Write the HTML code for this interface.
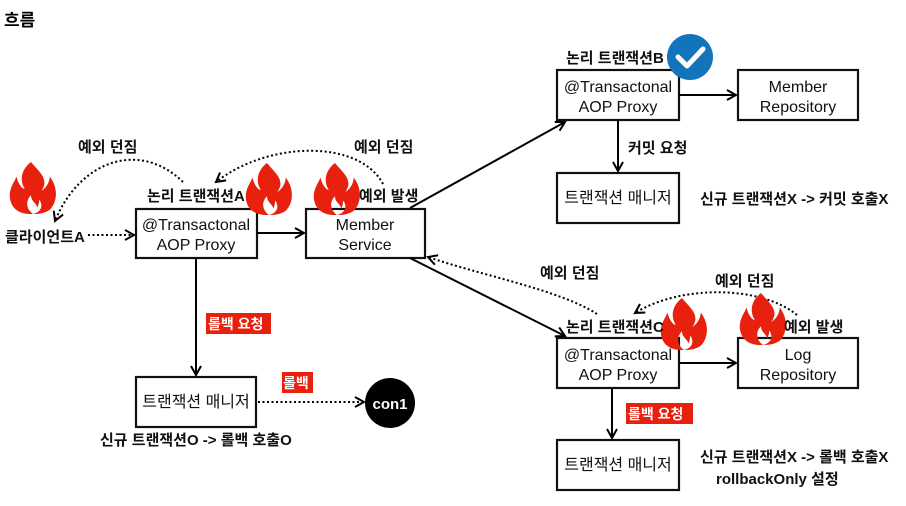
<!DOCTYPE html>
<html><head><meta charset="utf-8"><style>
body{margin:0;background:#fff;}
svg text{font-family:"Liberation Sans","Noto Sans CJK KR",sans-serif;}
</style></head><body>
<svg width="906" height="501" viewBox="0 0 906 501" xmlns="http://www.w3.org/2000/svg">
<defs>
<marker id="ar" markerWidth="12" markerHeight="12" refX="10" refY="6" orient="auto" markerUnits="userSpaceOnUse"><path d="M1,1 L10,6 L1,11" fill="none" stroke="#000" stroke-width="2"/></marker>
<symbol id="fl" viewBox="0 0 46 50"><path d="M22,0 C30,10 40,16 32,28 C38,24 40,18 40,14 C48,24 48,38 40,46 C34,50 28,50 22,50 C12,50 4,46 2,36 C0,26 6,20 8,14 C10,22 14,26 16,26 C10,16 14,6 22,0 Z M24,50 C18,46 16,38 22,32 C22,38 28,40 28,44 C30,40 30,36 30,36 C34,42 32,48 24,50Z" fill="#e8210f" fill-rule="evenodd"/></symbol>
</defs>
<text x="4" y="26" font-size="17" font-weight="bold">흐름</text>
<g fill="#fff" stroke="#111" stroke-width="2.2">
<rect x="136" y="209" width="121" height="49"/>
<rect x="306" y="209" width="119" height="49"/>
<rect x="557" y="70" width="122" height="50"/>
<rect x="738" y="70" width="120" height="50"/>
<rect x="557" y="173" width="122" height="50"/>
<rect x="557" y="338" width="122" height="50"/>
<rect x="738" y="338" width="120" height="50"/>
<rect x="136" y="377" width="120" height="50"/>
<rect x="557" y="440" width="122" height="50"/>
</g>
<g stroke="#000" stroke-width="2" fill="none" marker-end="url(#ar)">
<line x1="257" y1="233" x2="304" y2="233"/>
<line x1="410" y1="208" x2="565" y2="122"/>
<line x1="410" y1="258" x2="565" y2="336"/>
<line x1="679" y1="95" x2="736" y2="95"/>
<line x1="618" y1="120" x2="618" y2="171"/>
<line x1="679" y1="363" x2="736" y2="363"/>
<line x1="612" y1="388" x2="612" y2="438"/>
<line x1="196" y1="258" x2="196" y2="375"/>
</g>
<g stroke="#000" stroke-width="2" fill="none" stroke-dasharray="2,2.5" marker-end="url(#ar)">
<line x1="88" y1="235" x2="134" y2="235"/>
<line x1="258" y1="402" x2="364" y2="402"/>
<path d="M183,182 C140,140 80,160 55,221"/>
<path d="M383,184 C360,140 270,140 216,182"/>
<path d="M597,314 C560,290 480,275 428,257"/>
<path d="M797,315 C760,285 680,285 635,313"/>
</g>
<circle cx="390" cy="403" r="25" fill="#000"/>
<text x="390" y="409" font-size="15" font-weight="bold" fill="#fff" text-anchor="middle">con1</text>
<circle cx="690" cy="57" r="23" fill="#1474bb"/>
<path d="M678,57 L687,66 L703,49" fill="none" stroke="#fff" stroke-width="5" stroke-linecap="round" stroke-linejoin="round"/>
<use href="#fl" x="8" y="162" width="48" height="52"/>
<use href="#fl" x="244" y="163" width="48" height="52"/>
<use href="#fl" x="312" y="163" width="48" height="52"/>
<use href="#fl" x="659" y="298" width="48" height="52"/>
<use href="#fl" x="738" y="293" width="48" height="52"/>
<rect x="206" y="313" width="65" height="21" fill="#e8210f"/>
<rect x="282" y="372" width="31" height="21" fill="#e8210f"/>
<rect x="626" y="403" width="67" height="21" fill="#e8210f"/>
<g font-size="14" font-weight="bold" fill="#fff">
<text x="208" y="329">롤백 요청</text>
<text x="283" y="388">롤백</text>
<text x="628" y="419">롤백 요청</text>
</g>
<g font-size="16" text-anchor="middle" fill="#111">
<text x="196" y="230">@Transactonal</text><text x="196" y="250">AOP Proxy</text>
<text x="365" y="230">Member</text><text x="365" y="250">Service</text>
<text x="618" y="92">@Transactonal</text><text x="618" y="112">AOP Proxy</text>
<text x="798" y="92">Member</text><text x="798" y="112">Repository</text>
<text x="618" y="203">트랜잭션 매니저</text>
<text x="618" y="360">@Transactonal</text><text x="618" y="380">AOP Proxy</text>
<text x="798" y="360">Log</text><text x="798" y="380">Repository</text>
<text x="196" y="407">트랜잭션 매니저</text>
<text x="618" y="470">트랜잭션 매니저</text>
</g>
<g font-size="15" font-weight="bold" fill="#111">
<text x="78" y="152">예외 던짐</text>
<text x="354" y="152">예외 던짐</text>
<text x="147" y="201">논리 트랜잭션A</text>
<text x="359" y="201">예외 발생</text>
<text x="5" y="242">클라이언트A</text>
<text x="566" y="63">논리 트랜잭션B</text>
<text x="628" y="153">커밋 요청</text>
<text x="700" y="204">신규 트랜잭션X -&gt; 커밋 호출X</text>
<text x="540" y="278">예외 던짐</text>
<text x="715" y="286">예외 던짐</text>
<text x="566" y="332">논리 트랜잭션C</text>
<text x="784" y="332">예외 발생</text>
<text x="100" y="445">신규 트랜잭션O -&gt; 롤백 호출O</text>
<text x="700" y="462">신규 트랜잭션X -&gt; 롤백 호출X</text>
<text x="716" y="484">rollbackOnly 설정</text>
</g>
</svg>
</body></html>
